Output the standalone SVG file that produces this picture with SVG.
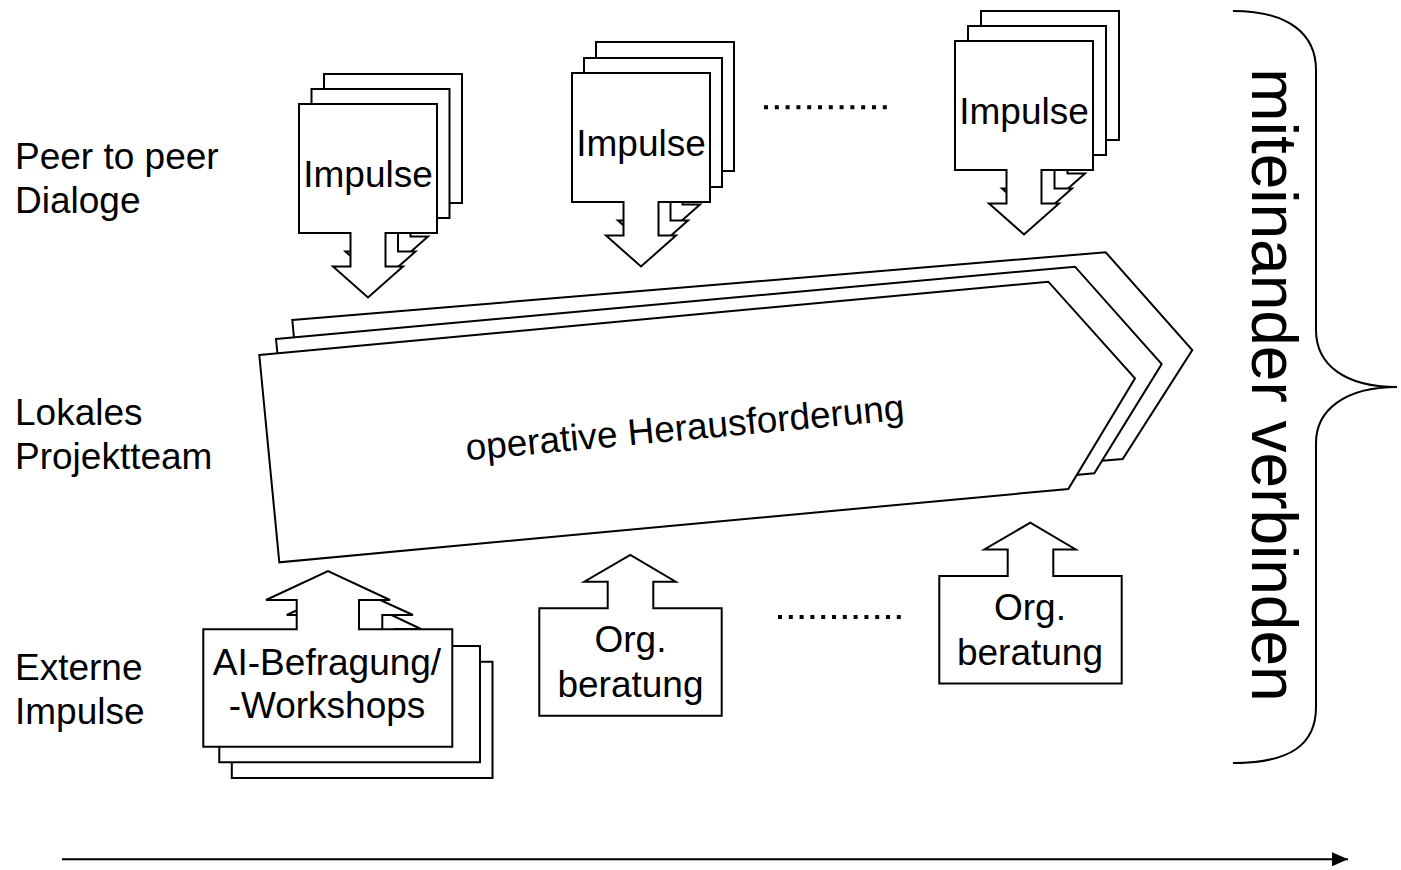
<svg xmlns="http://www.w3.org/2000/svg" width="1401" height="870" viewBox="0 0 1401 870">
<style>
.sh{fill:#fff;stroke:#000;stroke-width:2;stroke-linejoin:miter}
.t{font-family:"Liberation Sans",Arial,sans-serif;font-size:37px;fill:#000}
.c{text-anchor:middle}
.dots{stroke:#000;stroke-width:4;stroke-dasharray:4 6.8;fill:none}
</style>
<defs>
<path id="imp" d="M0,0 H138 V129 H86.5 V162.5 H104 L69,193.5 L34,162.5 H51.5 V129 H0 Z"/>
<path id="org" d="M0,0 H68.4 V-26.6 H45 L91,-53.3 L136.4,-26.6 H114 V0 H182.4 V107.4 H0 Z"/>
<marker id="ah" markerWidth="16" markerHeight="14" refX="16" refY="7" orient="auto" markerUnits="userSpaceOnUse">
<path d="M0,0 L16,7 L0,14 Z" fill="#000"/>
</marker>
</defs>
<rect width="1401" height="870" fill="#fff"/>

<g id="labels">
<text class="t" x="15" y="169">Peer to peer</text>
<text class="t" x="15" y="213">Dialoge</text>
<text class="t" x="15" y="425">Lokales</text>
<text class="t" x="15" y="469">Projektteam</text>
<text class="t" x="15" y="680">Externe</text>
<text class="t" x="15" y="724">Impulse</text>
</g>

<g id="challenge">
<polygon class="sh" points="292.3,320 1105.7,252.3 1192.3,350 1122.7,459 312,528"/>
<polygon class="sh" points="276,339 1075,266.7 1161.7,364 1094.3,473.3 296,546"/>
<polygon class="sh" points="259.3,355 1048.3,281.7 1135,378.3 1068.3,489 279.3,562.3"/>
<text class="t c" transform="translate(686,440) rotate(-5.3)">operative Herausforderung</text>
</g>

<g id="impulse1">
<use href="#imp" class="sh" x="324" y="74"/>
<use href="#imp" class="sh" x="311.5" y="89"/>
<use href="#imp" class="sh" x="299" y="104"/>
<text class="t c" x="368" y="186.7">Impulse</text>
</g>
<g id="impulse2">
<use href="#imp" class="sh" x="596" y="42"/>
<use href="#imp" class="sh" x="584" y="58"/>
<use href="#imp" class="sh" x="572" y="73"/>
<text class="t c" x="641" y="155.5">Impulse</text>
</g>
<g id="impulse3">
<use href="#imp" class="sh" x="981" y="11"/>
<use href="#imp" class="sh" x="968" y="26"/>
<use href="#imp" class="sh" x="955" y="41"/>
<text class="t c" x="1024" y="123.5">Impulse</text>
</g>

<g id="ai-workshops">
<path class="sh" d="M231.8,661.7 H329.5 V629 H300 L362,601 L421,629 H394.8 V661.7 H492.5 V778 H231.8 Z"/>
<path class="sh" d="M219.3,646 H317 V615 H286.7 L349.7,586 L413,615 H382.3 V646 H480 V762.3 H219.3 Z"/>
<path class="sh" d="M203.3,629.3 H296.7 V600 H266 L328,571 L390,600 H359 V629.3 H452.3 V746.7 H203.3 Z"/>
<text class="t c" x="327" y="675">AI-Befragung/</text>
<text class="t c" x="327" y="718.3">-Workshops</text>
</g>

<g id="org1">
<use href="#org" class="sh" x="539.3" y="608.3"/>
<text class="t c" x="630.5" y="651.7">Org.</text>
<text class="t c" x="630.5" y="696.7">beratung</text>
</g>
<g id="org2">
<use href="#org" class="sh" x="939.3" y="576"/>
<text class="t c" x="1030" y="620">Org.</text>
<text class="t c" x="1030" y="665">beratung</text>
</g>

<g id="ellipsis">
<line class="dots" x1="764" y1="107.3" x2="888" y2="107.3"/>
<line class="dots" x1="778" y1="617" x2="902" y2="617"/>
</g>

<g id="brace">
<path d="M1233,11 C1290,11 1316,35 1316,70 V330 C1316,365 1345,387 1397,387 C1345,387 1316,410 1316,443 V707 C1316,745 1290,763 1233,763" fill="none" stroke="#000" stroke-width="2"/>
<text class="t c" style="font-size:64px" transform="translate(1252,385) rotate(90)">miteinander verbinden</text>
</g>

<g id="connectors">
<line x1="62" y1="859.3" x2="1348" y2="859.3" stroke="#000" stroke-width="2" marker-end="url(#ah)"/>
</g>
</svg>
